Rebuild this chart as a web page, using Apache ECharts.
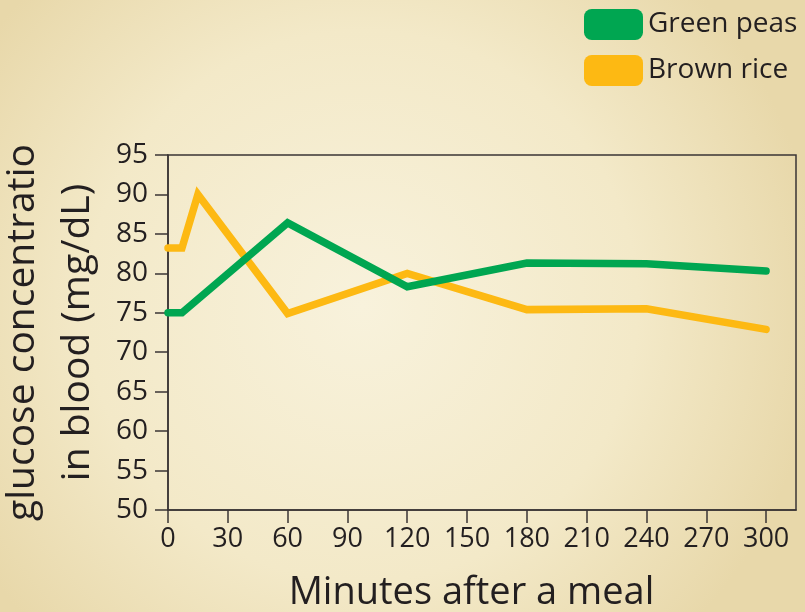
<!DOCTYPE html>
<html>
<head>
<meta charset="utf-8">
<script src="https://cdn.jsdelivr.net/npm/echarts@6/dist/echarts.min.js"></script>
<style>
html,body{margin:0;padding:0;}
#chart{width:805px;height:612px;}
</style>
</head>
<body>
<div id="chart"></div>
<script>
const seriesNames = ['Green peas', 'Brown rice'];
const greenMinutes = [0, 7, 60, 120, 180, 240, 300];
const greenValues = [75, 75, 86.4, 78.3, 81.3, 81.2, 80.3];
const riceMinutes = [0, 7, 15, 60, 120, 180, 240, 300];
const riceValues = [83.2, 83.2, 90, 74.9, 80, 75.4, 75.5, 72.9];
const xTicks = [0, 30, 60, 90, 120, 150, 180, 210, 240, 270, 300];
const yTicks = [50, 55, 60, 65, 70, 75, 80, 85, 90, 95];

const pairs = (xs, ys) => xs.map((x, i) => [x, ys[i]]);
const textColor = '#231f20';
const axisColor = '#3a3535';
const font = 'Open Sans';

const chart = echarts.init(document.getElementById('chart'));
chart.setOption({
  backgroundColor: {
    type: 'radial', x: 0.45, y: 0.5, r: 0.75,
    colorStops: [
      {offset: 0, color: '#f8f2dc'},
      {offset: 0.6, color: '#f3e9c8'},
      {offset: 1, color: '#e8d8aa'}
    ]
  },
  textStyle: {fontFamily: font, color: textColor},
  animation: false,
  legend: {
    orient: 'vertical',
    left: 584,
    top: 9,
    itemWidth: 59,
    itemHeight: 31,
    itemGap: 15,
    icon: 'roundRect',
    data: seriesNames,
    textStyle: {fontFamily: font, fontSize: 28, color: textColor},
    padding: 0
  },
  grid: {
    left: 168, right: 9, top: 155, bottom: 102,
    outerBoundsMode: 'none',
    containLabel: false,
    show: true, borderColor: axisColor, borderWidth: 1.5, backgroundColor: 'transparent'
  },
  xAxis: {
    type: 'value',
    min: 0, max: 315, interval: 30,
    name: 'Minutes after a meal',
    nameLocation: 'middle',
    nameGap: 64,
    nameTextStyle: {fontFamily: font, fontSize: 38, color: textColor, padding: [0, 21, 0, 0]},
    axisLine: {show: true, lineStyle: {color: axisColor, width: 1.5}},
    axisTick: {show: true, length: 13, inside: false, customValues: xTicks, lineStyle: {color: axisColor, width: 1.5}},
    axisLabel: {customValues: xTicks, fontFamily: font, fontSize: 27, color: textColor, margin: 16},
    splitLine: {show: false}
  },
  yAxis: {
    type: 'value',
    min: 50, max: 95, interval: 5,
    name: 'glucose concentratio\nin blood (mg/dL)',
    nameLocation: 'middle',
    nameGap: 62,
    nameRotate: 90,
    nameTextStyle: {fontFamily: font, fontSize: 39, color: textColor, lineHeight: 55},
    axisLine: {show: true, lineStyle: {color: axisColor, width: 1.5}},
    axisTick: {show: true, length: 13, inside: false, customValues: yTicks, lineStyle: {color: axisColor, width: 1.5}},
    axisLabel: {customValues: yTicks, fontFamily: font, fontSize: 28, color: textColor, margin: 20},
    splitLine: {show: false}
  },
  series: [
    {
      name: 'Brown rice', type: 'line', data: pairs(riceMinutes, riceValues),
      showSymbol: false, symbol: 'none', z: 2,
      color: '#fdb913',
      lineStyle: {color: '#fdb913', width: 7.5, join: 'miter', cap: 'round'}
    },
    {
      name: 'Green peas', type: 'line', data: pairs(greenMinutes, greenValues),
      showSymbol: false, symbol: 'none', z: 3,
      color: '#00a651',
      lineStyle: {color: '#00a651', width: 7.5, join: 'miter', cap: 'round'}
    }
  ]
});
</script>
</body>
</html>
